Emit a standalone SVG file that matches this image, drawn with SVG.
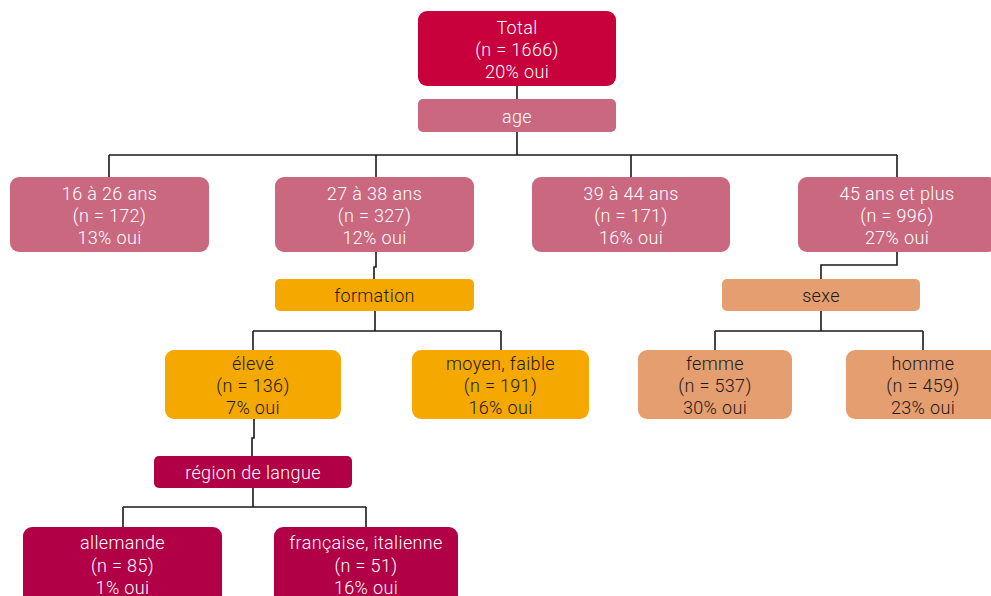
<svg xmlns="http://www.w3.org/2000/svg" width="991" height="596" viewBox="0 0 991 596">
<style>
text{font-family:Roboto,"Liberation Sans",sans-serif;font-weight:300;font-size:18px;letter-spacing:0.35px;text-anchor:middle}
.w{fill:#ffffff}
.k{fill:#1a1a1a}
.c1{fill:#C8003C}
.c2{fill:#C9687F}
.c3{fill:#F5A800}
.c4{fill:#B10046}
.c5{fill:#E49E6F}
.conn path{fill:none;stroke:#1a1a1a;stroke-width:1.6}
</style>
<rect width="991" height="596" fill="#ffffff"/>
<g class="conn" id="connectors">
<path d="M517 86V99"/>
<path d="M517 132V155M109 155H897M109 155V177M376 155V177M631 155V177M897 155V177"/>
<path d="M376 252V267H374V279"/>
<path d="M375 311V331M253 331H501M253 331V350M501 331V350"/>
<path d="M254 419V438H252V456"/>
<path d="M253 488V507M123 507H366M123 507V527M366 507V527"/>
<path d="M897 252V265H821V279"/>
<path d="M821 311V331M715 331H923M715 331V350M923 331V350"/>
</g>
<g id="n-total"><rect class="c1" x="418" y="11" width="198" height="75" rx="9"/><text class="w" x="517" y="33.5">Total</text><text class="w" x="517" y="55.8">(n = 1666)</text><text class="w" x="517" y="78.3">20% oui</text></g>
<g id="n-age"><rect class="c2" x="418" y="99" width="198" height="33" rx="5"/><text class="w" x="517" y="123">age</text></g>
<g id="n-16"><rect class="c2" x="10" y="177" width="199" height="75" rx="9"/><text class="w" x="109.5" y="199.5">16 à 26 ans</text><text class="w" x="109.5" y="221.8">(n = 172)</text><text class="w" x="109.5" y="244.3">13% oui</text></g>
<g id="n-27"><rect class="c2" x="275" y="177" width="199" height="75" rx="9"/><text class="w" x="374.5" y="199.5">27 à 38 ans</text><text class="w" x="374.5" y="221.8">(n = 327)</text><text class="w" x="374.5" y="244.3">12% oui</text></g>
<g id="n-39"><rect class="c2" x="532" y="177" width="198" height="75" rx="9"/><text class="w" x="631" y="199.5">39 à 44 ans</text><text class="w" x="631" y="221.8">(n = 171)</text><text class="w" x="631" y="244.3">16% oui</text></g>
<g id="n-45"><rect class="c2" x="798" y="177" width="199" height="75" rx="9"/><text class="w" x="897" y="199.5">45 ans et plus</text><text class="w" x="897" y="221.8">(n = 996)</text><text class="w" x="897" y="244.3">27% oui</text></g>
<g id="n-formation"><rect class="c3" x="275" y="279" width="199" height="32" rx="5"/><text class="k" x="374.5" y="301.5">formation</text></g>
<g id="n-sexe"><rect class="c5" x="722" y="279" width="198" height="32" rx="5"/><text class="k" x="821" y="301.5">sexe</text></g>
<g id="n-eleve"><rect class="c3" x="165" y="350" width="176" height="69" rx="9"/><text class="k" x="253" y="369.8">élevé</text><text class="k" x="253" y="391.8">(n = 136)</text><text class="k" x="253" y="413.8">7% oui</text></g>
<g id="n-moyen"><rect class="c3" x="412" y="350" width="177" height="69" rx="9"/><text class="k" x="500.5" y="369.8">moyen, faible</text><text class="k" x="500.5" y="391.8">(n = 191)</text><text class="k" x="500.5" y="413.8">16% oui</text></g>
<g id="n-femme"><rect class="c5" x="638" y="350" width="154" height="69" rx="9"/><text class="k" x="715" y="369.8">femme</text><text class="k" x="715" y="391.8">(n = 537)</text><text class="k" x="715" y="413.8">30% oui</text></g>
<g id="n-homme"><rect class="c5" x="846" y="350" width="154" height="69" rx="9"/><text class="k" x="923" y="369.8">homme</text><text class="k" x="923" y="391.8">(n = 459)</text><text class="k" x="923" y="413.8">23% oui</text></g>
<g id="n-region"><rect class="c4" x="154" y="456" width="198" height="32" rx="5"/><text class="w" x="253" y="479">région de langue</text></g>
<g id="n-allemande"><rect class="c4" x="23" y="527" width="199" height="80" rx="9"/><text class="w" x="122.5" y="549">allemande</text><text class="w" x="122.5" y="571.5">(n = 85)</text><text class="w" x="122.5" y="593.5">1% oui</text></g>
<g id="n-francaise"><rect class="c4" x="274" y="527" width="184" height="80" rx="9"/><text class="w" x="366" y="549">française, italienne</text><text class="w" x="366" y="571.5">(n = 51)</text><text class="w" x="366" y="593.5">16% oui</text></g>
</svg>
